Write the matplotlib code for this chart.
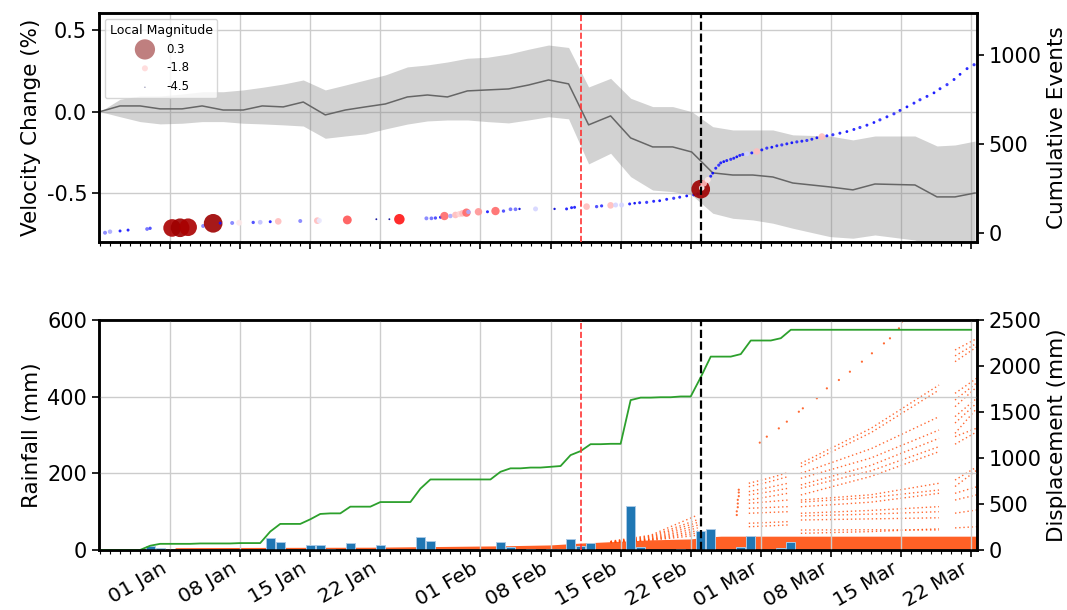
import numpy as np
import matplotlib.pyplot as plt
import matplotlib.dates as mdates
from matplotlib.colors import Normalize
from datetime import datetime

plt.rcParams['font.family'] = 'DejaVu Sans'
plt.rcParams['axes.unicode_minus'] = False

# all times are days after 01 Jan 2018
base = mdates.date2num(datetime(2018, 1, 1))
xmin, xmax = -7.1, 80.6
red_day = 41.05     # red dashed marker
black_day = 53.05   # black dashed marker

# --- velocity change (top, left axis) ---
vel_day = [-7.0, -5.0, -3.0, -1.0, 1.2, 3.2, 5.3, 7.3, 9.2, 11.3, 13.3, 15.5, 17.5, 19.5,
           21.5, 23.7, 25.7, 27.7, 29.7, 31.7, 33.8, 35.8, 37.8, 39.8, 41.8, 44.0, 46.0,
           48.2, 50.2, 52.1, 54.2, 56.2, 58.2, 60.2, 62.2, 65.9, 68.2, 70.4, 74.4, 76.6,
           78.4, 80.4]
vel = [0.0, 0.035, 0.035, 0.017, 0.017, 0.035, 0.01, 0.01, 0.035, 0.029, 0.059, -0.02,
       0.01, 0.029, 0.047, 0.09, 0.102, 0.09, 0.127, 0.133, 0.139, 0.163, 0.194, 0.17,
       -0.081, -0.026, -0.161, -0.216, -0.216, -0.247, -0.375, -0.388, -0.388, -0.4,
       -0.437, -0.461, -0.479, -0.443, -0.449, -0.522, -0.522, -0.498]
vel_hi = [0, 0.076, 0.096, 0.096, 0.108, 0.122, 0.122, 0.133, 0.149, 0.169, 0.194, 0.133,
          0.163, 0.194, 0.225, 0.274, 0.286, 0.304, 0.327, 0.333, 0.353, 0.382, 0.408,
          0.393, 0.151, 0.204, 0.082, 0.031, 0.031, 0.0, -0.092, -0.112, -0.112, -0.112,
          -0.142, -0.149, -0.173, -0.149, -0.149, -0.21, -0.204, -0.18]
vel_lo = [0, -0.031, -0.061, -0.075, -0.071, -0.061, -0.061, -0.071, -0.075, -0.081,
          -0.088, -0.163, -0.149, -0.136, -0.106, -0.076, -0.057, -0.051, -0.051, -0.061,
          -0.069, -0.051, -0.031, -0.044, -0.32, -0.255, -0.398, -0.48, -0.49, -0.51,
          -0.622, -0.653, -0.663, -0.683, -0.714, -0.765, -0.775, -0.755, -0.786, -0.847,
          -0.847, -0.82]

# --- seismic events (top, right axis) ---
ev_day = [-6.5, -6.0, -5.0, -4.2, -2.3, -2.0, 0.2, 1.0, 1.8, 3.3,
          4.3, 5.0, 6.2, 6.9, 8.3, 9.0, 10.0, 10.8, 13.0, 14.7,
          14.9, 17.7, 20.6, 21.9, 22.9, 25.6, 26.1, 26.5, 27.0, 27.4,
          28.0, 28.5, 28.9, 29.2, 29.6, 29.8, 30.8, 31.7, 32.5, 33.3,
          34.0, 34.5, 34.9, 36.5, 38.4, 39.6, 40.1, 40.4, 41.6, 42.6,
          43.1, 44.0, 44.5, 45.1, 45.9, 46.4, 46.9, 47.6, 48.3, 48.9,
          49.6, 50.3, 50.9, 51.6, 52.3, 52.7, 53.0, 53.1, 53.3, 53.7,
          54.0, 54.2, 54.5, 54.8, 55.0, 55.3, 55.6, 56.0, 56.3, 56.6,
          56.9, 57.2, 57.6, 58.1, 58.6, 59.1, 59.6, 60.1, 60.6, 61.1,
          61.6, 62.1, 62.6, 63.1, 63.6, 64.1, 64.6, 65.1, 65.6, 66.2,
          66.9, 67.6, 68.3, 68.9, 69.6, 70.3, 70.9, 71.6, 72.3, 72.9,
          73.6, 74.3, 74.9, 75.6, 76.3, 76.9, 77.6, 78.3, 78.9, 79.6,
          80.3]
ev_count = [0, 6, 10, 15, 21, 25, 27, 28, 31, 38,
            53, 54, 55, 56, 58, 59, 62, 64, 66, 68,
            68, 72, 76, 76, 76, 81, 81, 83, 87, 94,
            94, 100, 105, 109, 113, 117, 118, 118, 122, 122,
            132, 132, 134, 134, 134, 134, 141, 143, 147, 147,
            151, 154, 156, 156, 162, 166, 169, 171, 177, 180,
            188, 194, 200, 207, 213, 218, 245, 252, 278, 297,
            318, 335, 363, 380, 393, 400, 406, 413, 419, 427,
            435, 440, 444, 449, 457, 466, 476, 481, 489, 494,
            500, 506, 511, 515, 519, 526, 534, 541, 545, 551,
            560, 569, 581, 592, 605, 620, 635, 652, 669, 688,
            708, 729, 748, 767, 787, 810, 833, 862, 891, 923,
            945]
ev_mag = [-2.7, -2.5, -3.2, -3.2, -2.8, -3.0, -0.1, 0.0, -0.1, -2.7,
          0.0, -3.2, -2.7, -2.0, -3.0, -2.4, -3.2, -1.8, -2.7, -1.8,
          -2.2, -1.3, -4.0, -4.0, -1.0, -2.7, -2.8, -3.0, -3.2, -1.4,
          -2.5, -1.8, -1.9, -1.8, -1.4, -2.5, -1.6, -3.2, -1.4, -3.0,
          -2.8, -2.8, -3.6, -2.3, -3.6, -3.2, -3.2, -3.2, -1.8, -3.0,
          -3.1, -1.8, -2.3, -2.3, -3.2, -3.4, -3.2, -3.1, -3.2, -3.3,
          -3.2, -3.1, -3.2, -3.3, -3.2, -3.1, 0.0, -2.1, -1.8, -2.0,
          -3.2, -3.3, -3.2, -3.1, -3.2, -3.3, -3.2, -3.1, -3.2, -3.3,
          -3.2, -3.1, -2.3, -3.2, -1.8, -3.2, -3.1, -3.3, -3.2, -3.1,
          -3.2, -3.3, -3.1, -3.2, -3.1, -3.2, -3.3, -1.8, -3.2, -3.1,
          -3.2, -3.3, -3.2, -3.1, -3.2, -3.3, -3.1, -3.2, -3.1, -3.2,
          -3.3, -3.2, -3.1, -3.2, -3.3, -3.2, -3.1, -3.2, -3.3, -3.2,
          -3.1]
leg_mag = [0.3, -1.8, -4.5]

# --- rainfall (bottom, left axis) ---
rain_day = [-2, -1, 3, 7, 10, 11, 14, 15, 16, 18, 21, 25, 26, 33, 34, 36, 38, 39, 40,
            41, 42, 44, 46, 47, 49, 51, 53, 54, 57, 58, 61, 62]
rain_mm = [11, 5, 1, 1, 30, 20, 12, 14, 1.5, 17.5, 12, 35, 24, 20, 9, 2, 2, 2, 28.5,
           10.5, 18, 1, 114, 6.5, 1, 2, 50, 54, 6.5, 35.5, 6, 22]

# --- displacement (bottom, right axis) ---
band_day = [0.5, 10, 20, 27, 33, 38, 41, 44, 46, 48, 52, 53.5, 55, 80.6]
band_top = [25, 28, 30, 38, 45, 55, 75, 90, 100, 110, 120, 140, 150, 150]

fan_day = [44.0, 48.0, 52.7]
fan_disp = [[95, 160, 380], [90, 150, 330], [85, 140, 300], [90, 130, 270],
            [80, 120, 240], [85, 115, 210], [80, 110, 185], [90, 105, 160]]

seg1_day = [57.8, 59.8, 61.7]
seg1_disp = [[725, 780, 840], [688, 740, 797], [634, 680, 725], [598, 632, 670],
             [543, 580, 616], [507, 525, 543], [453, 462, 471], [399, 408, 416],
             [290, 299, 308], [253, 262, 272]]

seg2_day = [63.0, 70.0, 76.8]
seg2_disp = [[942, 1322, 1793], [905, 1275, 1739], [833, 1100, 1449], [779, 1000, 1304],
             [707, 920, 1214], [671, 860, 1123], [598, 800, 1069], [543, 600, 725],
             [520, 570, 652], [470, 520, 616], [399, 430, 471], [370, 390, 416],
             [326, 338, 350], [217, 220, 217], [181, 200, 230]]

seg3_day = [78.4, 80.6]
seg3_disp = [[2174, 2300], [2110, 2250], [2047, 2210], [1703, 1870], [1630, 1820],
             [1558, 1775], [1450, 1652], [1380, 1600], [1268, 1543], [1232, 1326],
             [1150, 1286], [760, 905], [690, 870], [616, 688], [543, 600], [400, 435],
             [240, 253]]

spr_day = [58.9, 59.6, 60.8, 61.6, 62.8, 63.2, 64.6, 65.6, 66.8, 67.9, 69.1, 70.1,
           71.3, 71.9, 72.8, 73.1]
spr_disp = [1167, 1232, 1322, 1395, 1503, 1540, 1649, 1757, 1848, 1938, 2047, 2138,
            2246, 2301, 2409, 2482]
clu_day = [56.6, 56.6, 56.7, 56.7, 56.7, 56.8, 56.8, 56.8]
clu_disp = [380, 420, 465, 505, 545, 585, 625, 655]


def dx(d):
    return base + np.asarray(d, dtype=float)


def msize(m):
    return 19 * np.exp(1.15 * (np.asarray(m, dtype=float) + 1.8))


FS = 15
fig = plt.figure(figsize=(10.67, 6.1), dpi=100)
ax1 = fig.add_axes([0.0928, 0.6033, 0.8229, 0.3754])
ax3 = fig.add_axes([0.0928, 0.0984, 0.8229, 0.3770], sharex=ax1)
ax2 = ax1.twinx()
ax4 = ax3.twinx()

# top panel
ax1.fill_between(dx(vel_day), vel_lo, vel_hi, color='gray', alpha=0.35, lw=0)
ax1.plot(dx(vel_day), vel, color='#666666', lw=1.1)
ax1.set_ylim(-0.798, 0.604)
ax1.set_yticks([-0.5, 0.0, 0.5])
ax1.set_ylabel('Velocity Change (%)', fontsize=FS + 0.5)

cmap = plt.get_cmap('seismic')
norm = Normalize(-4.5, 0.3)
ax2.scatter(dx(ev_day), ev_count, s=msize(ev_mag) * 1.2, c=ev_mag, cmap=cmap, norm=norm,
            alpha=0.9, edgecolors='none', zorder=3)
ax2.set_ylim(-52, 1236)
ax2.set_yticks([0, 500, 1000])
ax2.set_ylabel('Cumulative Events', fontsize=FS + 0.5)
handles = [ax2.scatter([], [], s=msize(m), color=cmap(norm(m)), alpha=0.5, edgecolors='none',
                       label=str(m)) for m in leg_mag]
ax2.legend(handles=handles, title='Local Magnitude', loc='upper left', fontsize=8.5,
           title_fontsize=9, borderaxespad=0.5)

# bottom panel
ax4.fill_between(dx(band_day), 0, band_top, color='orangered', alpha=0.85, lw=0)
for tdays, group in [(fan_day, fan_disp), (seg1_day, seg1_disp), (seg2_day, seg2_disp),
                     (seg3_day, seg3_disp)]:
    for vals in group:
        ax4.plot(dx(tdays), vals, color='orangered', lw=1.0, alpha=0.8,
                 linestyle=(0, (1, 2)))
ax4.scatter(dx(spr_day), spr_disp, s=2.5, color='orangered', alpha=0.8, edgecolors='none')
ax4.scatter(dx(clu_day), clu_disp, s=2.5, color='orangered', alpha=0.8, edgecolors='none')
ax4.set_ylim(0, 2500)
ax4.set_ylabel('Displacement (mm)', fontsize=FS + 0.5)

ax3.set_zorder(ax4.get_zorder() + 1)
ax3.patch.set_visible(False)
ax3.bar(dx(rain_day), rain_mm, width=0.9, color='#1f77b4', edgecolor='#a9c9e6', lw=0.7)
cum_day = np.concatenate([[xmin], np.arange(-7, 81)])
daily = np.zeros(len(cum_day))
for d, r in zip(rain_day, rain_mm):
    daily[np.where(cum_day == d)[0][0]] = r
ax3.plot(base + cum_day, np.cumsum(daily), color='#2ca02c', lw=1.3)
ax3.set_ylim(0, 600)
ax3.set_yticks([0, 200, 400, 600])
ax3.set_ylabel('Rainfall (mm)', fontsize=FS + 0.5)

for ax in (ax1, ax3):
    ax.grid(True, color='#cccccc', lw=1)
    ax.set_axisbelow(True)
# marker lines drawn on the topmost axes of each panel
for ax in (ax2, ax3):
    ax.axvline(base + red_day, color='#ff3333', ls='--', lw=1.2, zorder=5)
    ax.axvline(base + black_day, color='black', ls='--', lw=1.6, zorder=5)

ax1.set_xlim(base + xmin, base + xmax)
ax3.xaxis.set_major_locator(mdates.DayLocator(bymonthday=[1, 8, 15, 22]))
ax3.xaxis.set_minor_locator(mdates.DayLocator())
ax3.xaxis.set_major_formatter(mdates.DateFormatter('%d %b'))
plt.setp(ax1.get_xticklabels(), visible=False)

for ax in (ax1, ax2, ax3, ax4):
    ax.tick_params(labelsize=FS, width=1.2, length=5)
    ax.tick_params(which='minor', length=3, width=0.8)
    for sp in ax.spines.values():
        sp.set_linewidth(1.8)
ax3.tick_params(axis='x', labelsize=14.5, pad=1.5)
for lbl in ax3.get_xticklabels():
    lbl.set_rotation(30)
    lbl.set_ha('right')

fig.savefig('out.png', dpi=100)
